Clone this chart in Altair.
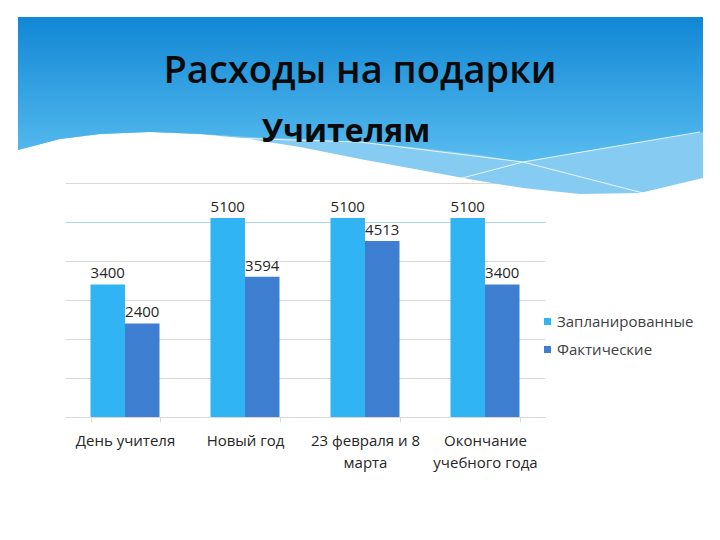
import altair as alt
import pandas as pd

# ---- chart data ----
categories = ["День учителя", "Новый год", "23 февраля и 8\nмарта", "Окончание\nучебного года"]
series = ["Запланированные", "Фактические"]
planned = [3400, 5100, 5100, 5100]
actual = [2400, 3594, 4513, 3400]
title_text = "Расходы на подарки"
subtitle_text = "Учителям"

rows = []
for c, p, a in zip(categories, planned, actual):
    rows.append({"category": c, "series": series[0], "value": p})
    rows.append({"category": c, "series": series[1], "value": a})
df = pd.DataFrame(rows)

# ---- decorative header (page pixel outline of the slide wave) ----
OX, OY = 65, 183  # plot origin on the page
wave_x = [18, 60, 100, 150, 200, 250, 300, 360, 420, 480, 523, 580, 640, 703]
wave_main = [150, 139, 134, 132, 134, 137, 139, 142, 148, 155, 162, 152, 142, 132]
wave_white = [150, 139, 134, 132, 134, 139, 147, 159, 170, 181, 188, 194, 193, 178]
header_top = 17
line1 = [(230, 138), (360, 142), (523, 162), (643, 193)]
line2 = [(447, 182), (523, 162), (700, 132)]

hdr = pd.DataFrame({
    "x": [v - OX for v in wave_x],
    "top": [header_top - OY] * len(wave_x),
    "main": [v - OY for v in wave_main],
    "white": [v - OY for v in wave_white],
})
lines_df = pd.DataFrame(
    [{"x": x - OX, "y": y - OY, "line": "a", "o": i} for i, (x, y) in enumerate(line1)]
    + [{"x": x - OX, "y": y - OY, "line": "b", "o": i} for i, (x, y) in enumerate(line2)]
)

light_band = alt.Chart(hdr).mark_area(color="#86CBF2").encode(
    x=alt.X("x:Q", scale=None, axis=None),
    y=alt.Y("top:Q", scale=None, axis=None),
    y2="white:Q",
)
main_band = alt.Chart(hdr).mark_area(
    fill=alt.Gradient(
        gradient="linear",
        stops=[alt.GradientStop(color="#1187D5", offset=0),
               alt.GradientStop(color="#58BCEF", offset=1)],
        x1=0, x2=0, y1=0, y2=1,
    )
).encode(
    x=alt.X("x:Q", scale=None, axis=None),
    y=alt.Y("top:Q", scale=None, axis=None),
    y2="main:Q",
)
thin_lines = alt.Chart(lines_df).mark_line(color="white", strokeWidth=1, opacity=0.8).encode(
    x=alt.X("x:Q", scale=None, axis=None),
    y=alt.Y("y:Q", scale=None, axis=None),
    detail="line:N",
    order="o:Q",
)
title_df = pd.DataFrame({"t": [title_text]})
sub_df = pd.DataFrame({"t": [subtitle_text]})
title_mark = alt.Chart(title_df).mark_text(
    font="Open Sans", fontSize=38, fontWeight=600, color="#0a0a0a", align="center", baseline="alphabetic"
).encode(text="t:N", x=alt.value(360 - OX), y=alt.value(83 - OY))
sub_mark = alt.Chart(sub_df).mark_text(
    font="Open Sans", fontSize=32, fontWeight="bold", color="#0a0a0a", align="center", baseline="alphabetic"
).encode(text="t:N", x=alt.value(346 - OX), y=alt.value(142 - OY))

decor = alt.layer(light_band, main_band, thin_lines, title_mark, sub_mark)

# ---- bar chart ----
xenc = alt.X(
    "category:N", sort=categories,
    scale=alt.Scale(paddingInner=0.425, paddingOuter=0.2125),
    axis=alt.Axis(
        title=None, labelAngle=0, labelExpr="split(datum.label, '\\n')",
        labelFont="Open Sans", labelFontSize=15, labelColor="#262626",
        labelLineHeight=22, labelPadding=11, tickBand="extent", tickSize=5,
        tickColor="#d9d9d9", domainColor="#d9d9d9", grid=False,
    ),
)
xoff = alt.XOffset("series:N", sort=series, scale=alt.Scale(paddingInner=0, paddingOuter=0))
yenc = alt.Y(
    "value:Q", scale=alt.Scale(domain=[0, 6000], nice=False),
    axis=alt.Axis(
        title=None, labels=False, ticks=False, domain=False,
        values=[0, 1000, 2000, 3000, 4000, 5000, 6000],
        gridColor={"condition": {"test": "datum.value == 5000", "value": "#a9d9f2"}, "value": "#d9d9d9"},
        gridWidth=1,
    ),
)
bars = alt.Chart(df).mark_bar().encode(
    x=xenc, xOffset=xoff, y=yenc,
    color=alt.Color(
        "series:N",
        scale=alt.Scale(domain=series, range=["#31B4F4", "#3E7FD1"]),
        legend=alt.Legend(
            title=None, orient="none", legendX=475, legendY=131,
            symbolType="square", symbolSize=49, symbolStrokeWidth=0,
            labelFont="Open Sans", labelFontSize=15, labelColor="#404040",
            rowPadding=12, labelOffset=2, padding=0,
        ),
    ),
)
labels = alt.Chart(df).mark_text(
    baseline="bottom", dy=-3, font="Open Sans", fontSize=15, color="#262626"
).encode(x=xenc, xOffset=xoff, y=yenc, text="value:Q")

barchart = alt.layer(bars, labels)

chart = alt.layer(decor, barchart).resolve_scale(
    x="independent", y="independent"
).properties(
    width=480, height=234,
    autosize=alt.AutoSizeParams(type="none"),
    padding={"left": 57, "top": 175, "right": 163, "bottom": 111},
    background="white",
).configure_view(stroke=None)

chart.save("out.html", embed_options={"renderer": "svg", "actions": False})
